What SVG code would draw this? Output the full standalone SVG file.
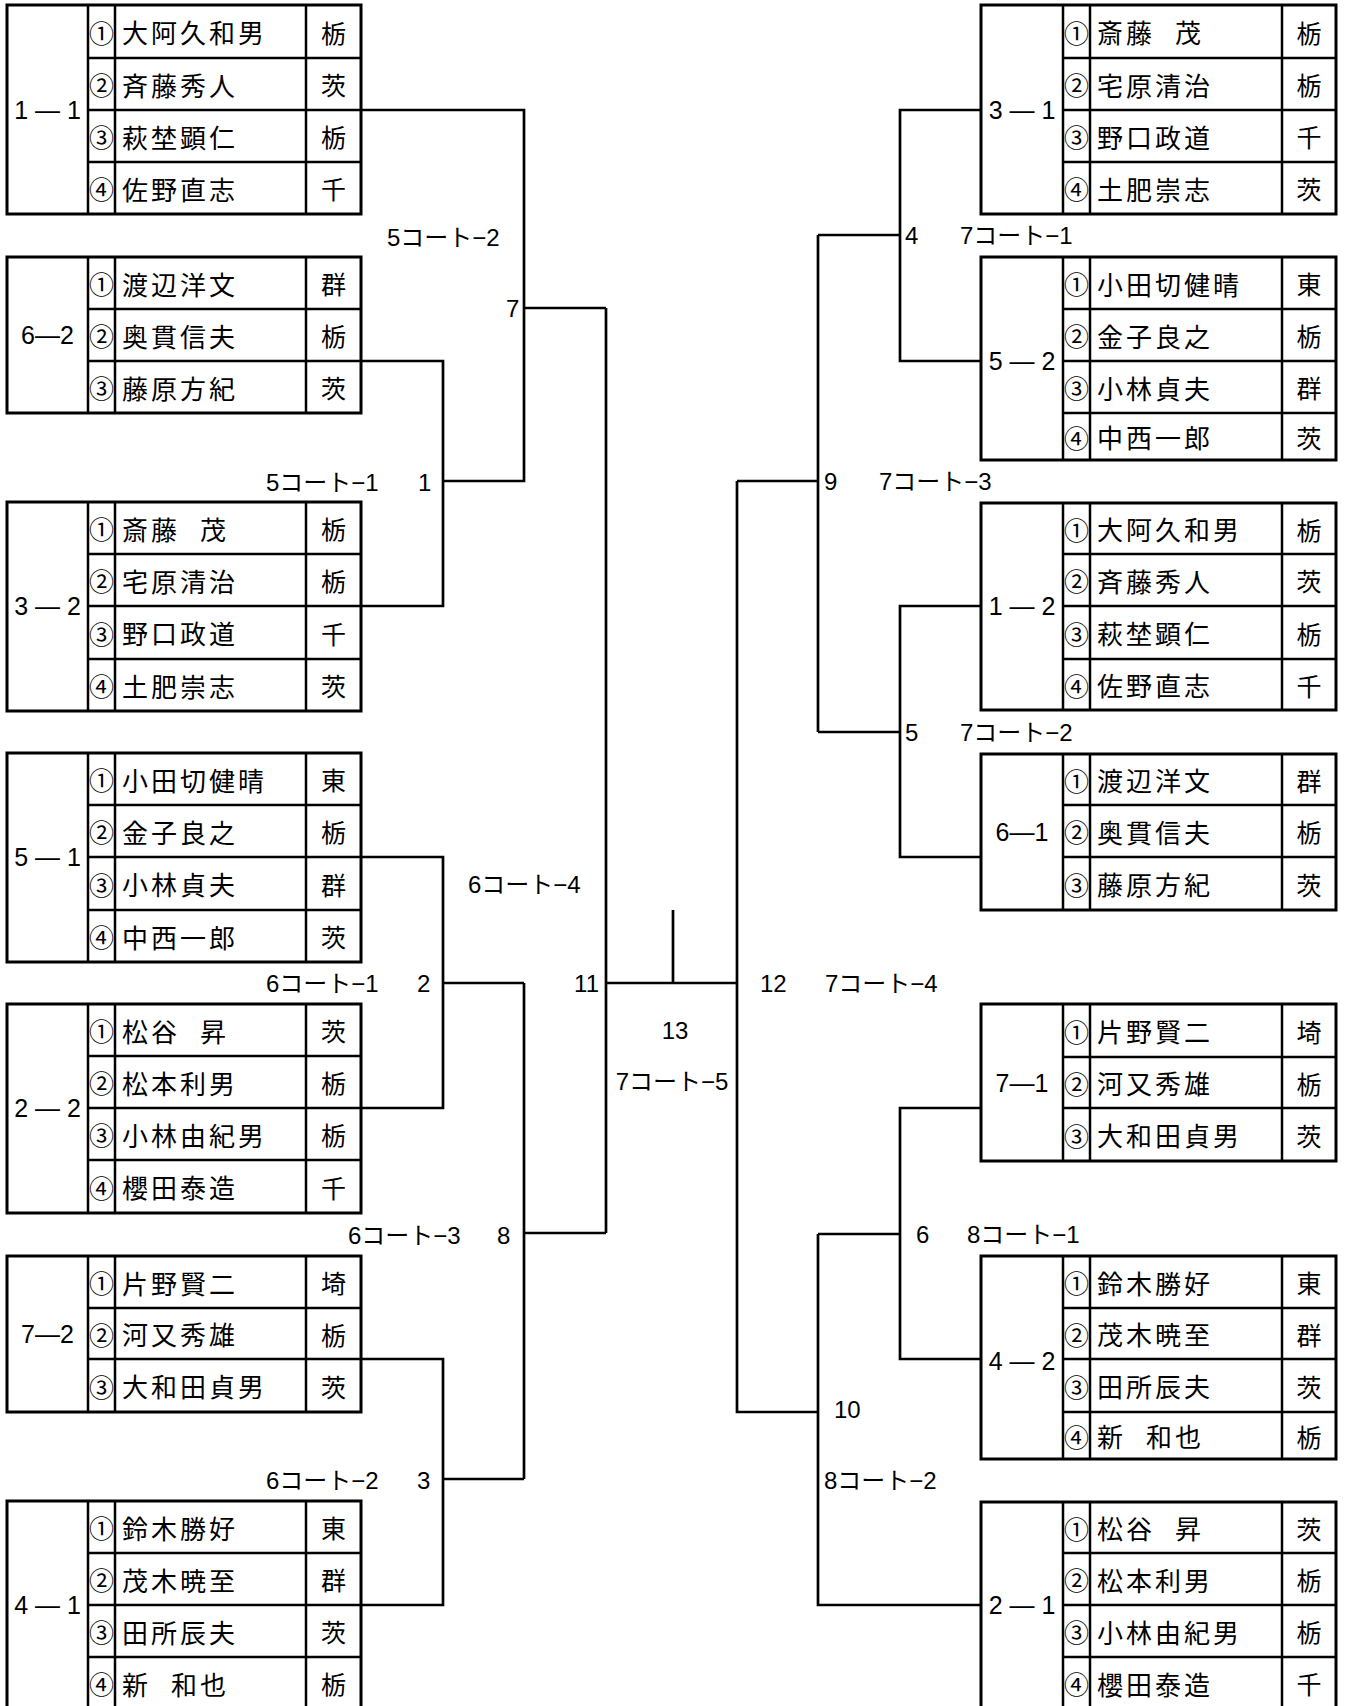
<svg xmlns="http://www.w3.org/2000/svg" width="1345" height="1706" viewBox="0 0 1345 1706">
<style>
text{font-family:"Liberation Sans","Noto Sans CJK JP",sans-serif;font-size:24px;dominant-baseline:central;fill:#000}
.nm{font-family:"Noto Sans CJK JP",sans-serif;font-size:26px;letter-spacing:3px}
.sp{letter-spacing:-6px}
.cn{font-family:"Noto Sans CJK JP",sans-serif;font-size:25px;text-anchor:middle}
.pf{font-family:"Noto Sans CJK JP",sans-serif;font-size:25px;text-anchor:middle}
.gl{text-anchor:middle;font-size:25px}
.box{fill:#fff;stroke:#000;stroke-width:3}
.ln{fill:none;stroke:#000;stroke-width:2.5}
.cx{fill:none;stroke:#000;stroke-width:2.7}
.mid{text-anchor:middle}
.end{text-anchor:end}
</style>
<rect width="1345" height="1706" fill="#fff"/>

<g id="connectors">
<path class="cx" d="M361,110 H524 V481 H443 M361,361 H443 V606 H361 M524,308 H606"/>
<path class="cx" d="M361,857 H443 V1108 H361 M443,983 H524 M361,1359 H443 V1605 H361 M443,1479 H524 M524,983 V1479 M524,1233 H606"/>
<path class="cx" d="M606,308 V1233 M606,983 H737 M673,910 V983"/>
<path class="cx" d="M737,481 V1412 H818 M737,481 H818"/>
<path class="cx" d="M818,235 V732 M818,235 H900 M981,110 H900 V361 H981 M818,732 H900 M981,606 H900 V857 H981"/>
<path class="cx" d="M818,1234 V1605 H981 M818,1234 H900 M981,1108 H900 V1359 H981"/>
</g>

<g id="labels">
<text x="387" y="237">5コート−2</text>
<text x="506" y="308">7</text>
<text x="266" y="482">5コート−1</text>
<text x="418" y="482">1</text>
<text x="468" y="884">6コート−4</text>
<text x="266" y="983">6コート−1</text>
<text x="417" y="983">2</text>
<text x="348" y="1235">6コート−3</text>
<text x="497" y="1235">8</text>
<text x="266" y="1480">6コート−2</text>
<text x="417" y="1480">3</text>
<text class="end" x="599" y="983">11</text>
<text class="mid" x="675" y="1030">13</text>
<text class="mid" x="672" y="1081">7コート−5</text>
<text x="760" y="983">12</text>
<text x="825" y="983">7コート−4</text>
<text x="905" y="235">4</text>
<text x="960" y="235">7コート−1</text>
<text x="824" y="481">9</text>
<text x="879" y="481">7コート−3</text>
<text x="905" y="732">5</text>
<text x="960" y="732">7コート−2</text>
<text x="916" y="1234">6</text>
<text x="967" y="1234">8コート−1</text>
<text x="834" y="1409">10</text>
<text x="824" y="1480">8コート−2</text>
</g>

<!-- LEFT BLOCKS -->
<g id="L1">
<rect class="box" x="7" y="5" width="354" height="209"/>
<path class="ln" d="M88,5 V214 M115,5 V214 M306,5 V214 M88,58 H361 M88,110 H361 M88,162 H361"/>
<text class="gl" x="47.5" y="110">1 — 1</text>
<text class="cn" x="101.5" y="31.5">①</text><text class="nm" x="122" y="31.5">大阿久和男</text><text class="pf" x="333.5" y="31.5">栃</text>
<text class="cn" x="101.5" y="84">②</text><text class="nm" x="122" y="84">斉藤秀人</text><text class="pf" x="333.5" y="84">茨</text>
<text class="cn" x="101.5" y="136">③</text><text class="nm" x="122" y="136">萩埜顕仁</text><text class="pf" x="333.5" y="136">栃</text>
<text class="cn" x="101.5" y="188">④</text><text class="nm" x="122" y="188">佐野直志</text><text class="pf" x="333.5" y="188">千</text>
</g>
<g id="L2">
<rect class="box" x="7" y="257" width="354" height="156"/>
<path class="ln" d="M88,257 V413 M115,257 V413 M306,257 V413 M88,309 H361 M88,361 H361"/>
<text class="gl" x="47.5" y="335">6—2</text>
<text class="cn" x="101.5" y="283">①</text><text class="nm" x="122" y="283">渡辺洋文</text><text class="pf" x="333.5" y="283">群</text>
<text class="cn" x="101.5" y="335">②</text><text class="nm" x="122" y="335">奥貫信夫</text><text class="pf" x="333.5" y="335">栃</text>
<text class="cn" x="101.5" y="387">③</text><text class="nm" x="122" y="387">藤原方紀</text><text class="pf" x="333.5" y="387">茨</text>
</g>
<g id="L3">
<rect class="box" x="7" y="502" width="354" height="209"/>
<path class="ln" d="M88,502 V711 M115,502 V711 M306,502 V711 M88,554 H361 M88,606 H361 M88,659 H361"/>
<text class="gl" x="47.5" y="606">3 — 2</text>
<text class="cn" x="101.5" y="528">①</text><text class="nm" x="122" y="528">斎藤<tspan class="sp">　</tspan>茂</text><text class="pf" x="333.5" y="528">栃</text>
<text class="cn" x="101.5" y="580">②</text><text class="nm" x="122" y="580">宅原清治</text><text class="pf" x="333.5" y="580">栃</text>
<text class="cn" x="101.5" y="632.5">③</text><text class="nm" x="122" y="632.5">野口政道</text><text class="pf" x="333.5" y="632.5">千</text>
<text class="cn" x="101.5" y="685">④</text><text class="nm" x="122" y="685">土肥崇志</text><text class="pf" x="333.5" y="685">茨</text>
</g>
<g id="L4">
<rect class="box" x="7" y="753" width="354" height="209"/>
<path class="ln" d="M88,753 V962 M115,753 V962 M306,753 V962 M88,805 H361 M88,857 H361 M88,910 H361"/>
<text class="gl" x="47.5" y="857">5 — 1</text>
<text class="cn" x="101.5" y="779">①</text><text class="nm" x="122" y="779">小田切健晴</text><text class="pf" x="333.5" y="779">東</text>
<text class="cn" x="101.5" y="831">②</text><text class="nm" x="122" y="831">金子良之</text><text class="pf" x="333.5" y="831">栃</text>
<text class="cn" x="101.5" y="883.5">③</text><text class="nm" x="122" y="883.5">小林貞夫</text><text class="pf" x="333.5" y="883.5">群</text>
<text class="cn" x="101.5" y="936">④</text><text class="nm" x="122" y="936">中西一郎</text><text class="pf" x="333.5" y="936">茨</text>
</g>
<g id="L5">
<rect class="box" x="7" y="1004" width="354" height="209"/>
<path class="ln" d="M88,1004 V1213 M115,1004 V1213 M306,1004 V1213 M88,1056 H361 M88,1108 H361 M88,1160 H361"/>
<text class="gl" x="47.5" y="1108">2 — 2</text>
<text class="cn" x="101.5" y="1030">①</text><text class="nm" x="122" y="1030">松谷<tspan class="sp">　</tspan>昇</text><text class="pf" x="333.5" y="1030">茨</text>
<text class="cn" x="101.5" y="1082">②</text><text class="nm" x="122" y="1082">松本利男</text><text class="pf" x="333.5" y="1082">栃</text>
<text class="cn" x="101.5" y="1134">③</text><text class="nm" x="122" y="1134">小林由紀男</text><text class="pf" x="333.5" y="1134">栃</text>
<text class="cn" x="101.5" y="1186.5">④</text><text class="nm" x="122" y="1186.5">櫻田泰造</text><text class="pf" x="333.5" y="1186.5">千</text>
</g>
<g id="L6">
<rect class="box" x="7" y="1256" width="354" height="156"/>
<path class="ln" d="M88,1256 V1412 M115,1256 V1412 M306,1256 V1412 M88,1308 H361 M88,1359 H361"/>
<text class="gl" x="47.5" y="1334">7—2</text>
<text class="cn" x="101.5" y="1282">①</text><text class="nm" x="122" y="1282">片野賢二</text><text class="pf" x="333.5" y="1282">埼</text>
<text class="cn" x="101.5" y="1333.5">②</text><text class="nm" x="122" y="1333.5">河又秀雄</text><text class="pf" x="333.5" y="1333.5">栃</text>
<text class="cn" x="101.5" y="1385.5">③</text><text class="nm" x="122" y="1385.5">大和田貞男</text><text class="pf" x="333.5" y="1385.5">茨</text>
</g>
<g id="L7">
<rect class="box" x="7" y="1501" width="354" height="208"/>
<path class="ln" d="M88,1501 V1709 M115,1501 V1709 M306,1501 V1709 M88,1553 H361 M88,1605 H361 M88,1657 H361"/>
<text class="gl" x="47.5" y="1605">4 — 1</text>
<text class="cn" x="101.5" y="1527">①</text><text class="nm" x="122" y="1527">鈴木勝好</text><text class="pf" x="333.5" y="1527">東</text>
<text class="cn" x="101.5" y="1579">②</text><text class="nm" x="122" y="1579">茂木暁至</text><text class="pf" x="333.5" y="1579">群</text>
<text class="cn" x="101.5" y="1631">③</text><text class="nm" x="122" y="1631">田所辰夫</text><text class="pf" x="333.5" y="1631">茨</text>
<text class="cn" x="101.5" y="1683">④</text><text class="nm" x="122" y="1683">新<tspan class="sp">　</tspan>和也</text><text class="pf" x="333.5" y="1683">栃</text>
</g>

<!-- RIGHT BLOCKS -->
<g id="R1">
<rect class="box" x="981" y="5" width="355" height="209"/>
<path class="ln" d="M1063,5 V214 M1090,5 V214 M1282,5 V214 M1063,58 H1336 M1063,110 H1336 M1063,162 H1336"/>
<text class="gl" x="1022" y="110">3 — 1</text>
<text class="cn" x="1076.5" y="31.5">①</text><text class="nm" x="1097" y="31.5">斎藤<tspan class="sp">　</tspan>茂</text><text class="pf" x="1309" y="31.5">栃</text>
<text class="cn" x="1076.5" y="84">②</text><text class="nm" x="1097" y="84">宅原清治</text><text class="pf" x="1309" y="84">栃</text>
<text class="cn" x="1076.5" y="136">③</text><text class="nm" x="1097" y="136">野口政道</text><text class="pf" x="1309" y="136">千</text>
<text class="cn" x="1076.5" y="188">④</text><text class="nm" x="1097" y="188">土肥崇志</text><text class="pf" x="1309" y="188">茨</text>
</g>
<g id="R2">
<rect class="box" x="981" y="257" width="355" height="203"/>
<path class="ln" d="M1063,257 V460 M1090,257 V460 M1282,257 V460 M1063,309 H1336 M1063,361 H1336 M1063,413 H1336"/>
<text class="gl" x="1022" y="361">5 — 2</text>
<text class="cn" x="1076.5" y="283">①</text><text class="nm" x="1097" y="283">小田切健晴</text><text class="pf" x="1309" y="283">東</text>
<text class="cn" x="1076.5" y="335">②</text><text class="nm" x="1097" y="335">金子良之</text><text class="pf" x="1309" y="335">栃</text>
<text class="cn" x="1076.5" y="387">③</text><text class="nm" x="1097" y="387">小林貞夫</text><text class="pf" x="1309" y="387">群</text>
<text class="cn" x="1076.5" y="436.5">④</text><text class="nm" x="1097" y="436.5">中西一郎</text><text class="pf" x="1309" y="436.5">茨</text>
</g>
<g id="R3">
<rect class="box" x="981" y="503" width="355" height="207"/>
<path class="ln" d="M1063,503 V710 M1090,503 V710 M1282,503 V710 M1063,554 H1336 M1063,606 H1336 M1063,659 H1336"/>
<text class="gl" x="1022" y="606">1 — 2</text>
<text class="cn" x="1076.5" y="528.5">①</text><text class="nm" x="1097" y="528.5">大阿久和男</text><text class="pf" x="1309" y="528.5">栃</text>
<text class="cn" x="1076.5" y="580">②</text><text class="nm" x="1097" y="580">斉藤秀人</text><text class="pf" x="1309" y="580">茨</text>
<text class="cn" x="1076.5" y="632.5">③</text><text class="nm" x="1097" y="632.5">萩埜顕仁</text><text class="pf" x="1309" y="632.5">栃</text>
<text class="cn" x="1076.5" y="684.5">④</text><text class="nm" x="1097" y="684.5">佐野直志</text><text class="pf" x="1309" y="684.5">千</text>
</g>
<g id="R4">
<rect class="box" x="981" y="754" width="355" height="156"/>
<path class="ln" d="M1063,754 V910 M1090,754 V910 M1282,754 V910 M1063,805 H1336 M1063,857 H1336"/>
<text class="gl" x="1022" y="832">6—1</text>
<text class="cn" x="1076.5" y="779.5">①</text><text class="nm" x="1097" y="779.5">渡辺洋文</text><text class="pf" x="1309" y="779.5">群</text>
<text class="cn" x="1076.5" y="831">②</text><text class="nm" x="1097" y="831">奥貫信夫</text><text class="pf" x="1309" y="831">栃</text>
<text class="cn" x="1076.5" y="883.5">③</text><text class="nm" x="1097" y="883.5">藤原方紀</text><text class="pf" x="1309" y="883.5">茨</text>
</g>
<g id="R5">
<rect class="box" x="981" y="1004" width="355" height="157"/>
<path class="ln" d="M1063,1004 V1161 M1090,1004 V1161 M1282,1004 V1161 M1063,1057 H1336 M1063,1108 H1336"/>
<text class="gl" x="1022" y="1083">7—1</text>
<text class="cn" x="1076.5" y="1030.5">①</text><text class="nm" x="1097" y="1030.5">片野賢二</text><text class="pf" x="1309" y="1030.5">埼</text>
<text class="cn" x="1076.5" y="1082.5">②</text><text class="nm" x="1097" y="1082.5">河又秀雄</text><text class="pf" x="1309" y="1082.5">栃</text>
<text class="cn" x="1076.5" y="1134.5">③</text><text class="nm" x="1097" y="1134.5">大和田貞男</text><text class="pf" x="1309" y="1134.5">茨</text>
</g>
<g id="R6">
<rect class="box" x="981" y="1256" width="355" height="203"/>
<path class="ln" d="M1063,1256 V1459 M1090,1256 V1459 M1282,1256 V1459 M1063,1308 H1336 M1063,1359 H1336 M1063,1412 H1336"/>
<text class="gl" x="1022" y="1361">4 — 2</text>
<text class="cn" x="1076.5" y="1282">①</text><text class="nm" x="1097" y="1282">鈴木勝好</text><text class="pf" x="1309" y="1282">東</text>
<text class="cn" x="1076.5" y="1333.5">②</text><text class="nm" x="1097" y="1333.5">茂木暁至</text><text class="pf" x="1309" y="1333.5">群</text>
<text class="cn" x="1076.5" y="1385.5">③</text><text class="nm" x="1097" y="1385.5">田所辰夫</text><text class="pf" x="1309" y="1385.5">茨</text>
<text class="cn" x="1076.5" y="1435.5">④</text><text class="nm" x="1097" y="1435.5">新<tspan class="sp">　</tspan>和也</text><text class="pf" x="1309" y="1435.5">栃</text>
</g>
<g id="R7">
<rect class="box" x="981" y="1502" width="355" height="207"/>
<path class="ln" d="M1063,1502 V1709 M1090,1502 V1709 M1282,1502 V1709 M1063,1553 H1336 M1063,1605 H1336 M1063,1657 H1336"/>
<text class="gl" x="1022" y="1605">2 — 1</text>
<text class="cn" x="1076.5" y="1527.5">①</text><text class="nm" x="1097" y="1527.5">松谷<tspan class="sp">　</tspan>昇</text><text class="pf" x="1309" y="1527.5">茨</text>
<text class="cn" x="1076.5" y="1579">②</text><text class="nm" x="1097" y="1579">松本利男</text><text class="pf" x="1309" y="1579">栃</text>
<text class="cn" x="1076.5" y="1631">③</text><text class="nm" x="1097" y="1631">小林由紀男</text><text class="pf" x="1309" y="1631">栃</text>
<text class="cn" x="1076.5" y="1683">④</text><text class="nm" x="1097" y="1683">櫻田泰造</text><text class="pf" x="1309" y="1683">千</text>
</g>
</svg>
